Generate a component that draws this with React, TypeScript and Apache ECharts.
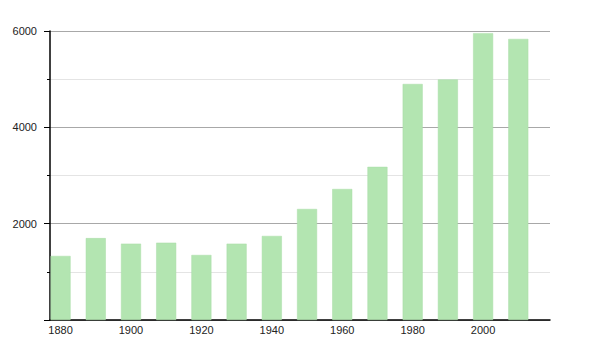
import React, { useEffect, useRef } from "react";
import * as echarts from "echarts";

const years = [1880, 1890, 1900, 1910, 1920, 1930, 1940, 1950, 1960, 1970, 1980, 1990, 2000, 2010];
const population = [1330, 1700, 1585, 1605, 1350, 1585, 1745, 2305, 2720, 3180, 4900, 4995, 5955, 5835];
const xTickLabels = [1880, 1900, 1920, 1940, 1960, 1980, 2000];

export default function App() {
  const ref = useRef<HTMLDivElement>(null);
  useEffect(() => {
    if (!ref.current) return;
    const chart = echarts.init(ref.current, null, { renderer: "svg" });
    chart.setOption({
      animation: false,
      backgroundColor: "#ffffff",
      textStyle: { fontFamily: "Liberation Sans, Arial, sans-serif" },
      grid: { left: 50, right: 50, top: 31, bottom: 30, containLabel: false },
      xAxis: {
        type: "value",
        min: 1877,
        max: 2019,
        splitLine: { show: false },
        axisLine: { show: true, lineStyle: { color: "#000", width: 1.5 } },
        axisTick: { show: false },
        axisLabel: {
          customValues: xTickLabels,
          color: "#222",
          fontSize: 11,
          margin: 4,
          formatter: (v: number) => String(v),
        },
      },
      yAxis: {
        type: "value",
        min: 0,
        max: 6000,
        interval: 2000,
        axisLine: { show: true, lineStyle: { color: "#000", width: 1.5 } },
        axisTick: { show: true, length: 6, lineStyle: { color: "#000" } },
        minorTick: { show: true, splitNumber: 2, length: 3, lineStyle: { color: "#000" } },
        splitLine: { show: true, lineStyle: { color: "#a8a8a8", width: 1 } },
        minorSplitLine: { show: true, lineStyle: { color: "#e4e4e4", width: 1 } },
        axisLabel: {
          color: "#222",
          fontSize: 11,
          margin: 13,
          formatter: (v: number) => (v === 0 ? "" : String(v)),
        },
      },
      series: [
        {
          type: "bar",
          data: years.map((y, i) => [y, population[i]]),
          barWidth: 20,
          itemStyle: { color: "#b3e5b1", borderColor: "#a9dca7", borderWidth: 0.5 },
        },
      ],
    });
    return () => chart.dispose();
  }, []);
  return (
    <div
      ref={ref}
      style={{ position: "absolute", left: 0, top: 0, width: 600, height: 350 }}
    />
  );
}
